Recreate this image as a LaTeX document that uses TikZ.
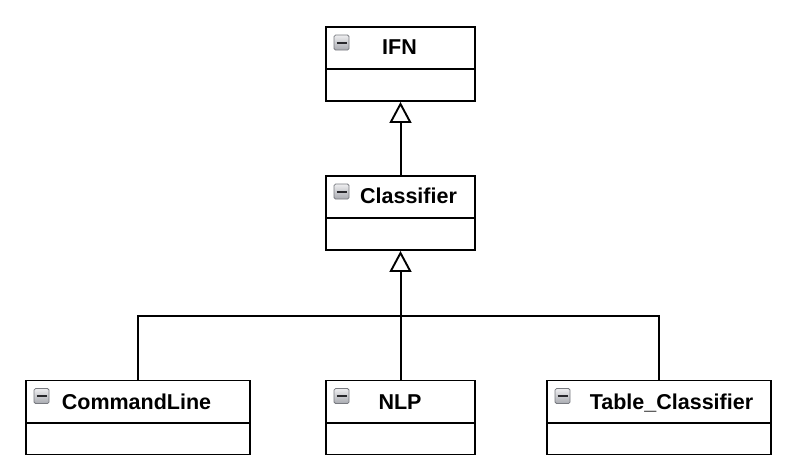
\documentclass[tikz,border=0pt]{standalone}
\usepackage{fontspec}
\setmainfont{Liberation Sans}
\usetikzlibrary{arrows.meta,calc}
\tikzset{
  classbox/.style={draw=black, line width=1.9pt, fill=white, inner sep=0pt, minimum height=74pt},
  narrowbox/.style={classbox, minimum width=149pt},
  widebox/.style={classbox, minimum width=224pt},
  divider/.style={draw=black, line width=1.9pt},
  classname/.style={font=\fontsize{21.5}{21.5}\selectfont\bfseries, inner sep=0pt, anchor=base},
  inh/.style={draw=black, line width=2pt, -{Triangle[open, length=21pt, width=22pt, line width=1.9pt]}},
  link/.style={draw=black, line width=2pt},
}
\definecolor{icontop}{RGB}{238,238,240}
\definecolor{iconbot}{RGB}{168,170,176}
\definecolor{iconborder}{RGB}{120,122,128}
\definecolor{iconbar}{RGB}{40,40,44}
\newcommand{\minusicon}[1]{%
  \shade[top color=icontop, bottom color=iconbot, draw=iconborder, line width=0.8pt, rounded corners=1.5pt]
    ($(#1.north west)+(9,9)$) rectangle ++(15,15);
  \draw[iconbar, line width=2pt] ($(#1.north west)+(11.5,16.5)$) -- ++(10,0);
}
\begin{document}
\begin{tikzpicture}[x=1pt, y=-1pt]
\useasboundingbox (0,0) rectangle (796,473);
\fill[white] (0,0) rectangle (796,473);

% boxes
\node[narrowbox] (ifn) at (400.5,64) {};
\node[narrowbox] (cls) at (400.5,213) {};
\node[widebox] (cmd) at (138,417.5) {};
\node[narrowbox] (nlp) at (400.5,417.5) {};
\node[widebox] (tab) at (659,417.5) {};

% dividers and icons
\foreach \b in {ifn,cls,cmd,nlp,tab}{
  \draw[divider] ($(\b.north west)+(0,43)$) -- ($(\b.north east)+(0,43)$);
  \minusicon{\b}
}

% names
\node[classname] (ifnt) at (399.5,55) {IFN};
\node[classname] (clst) at (408.5,204) {Classifier};
\node[classname] (cmdt) at (136.5,409.5) {CommandLine};
\node[classname] (nlpt) at (400,409.5) {NLP};
\node[classname] (tabt) at (671.5,409.5) {Table\_Classifier};

% connectors
\coordinate (bus) at (400.5,316);
\draw[inh] (cls.north) -- (ifn.south);
\draw[inh] (nlp.north) -- (cls.south);
\draw[link] (cmd.north) |- (bus);
\draw[link] (tab.north) |- (bus);
\end{tikzpicture}
\end{document}
